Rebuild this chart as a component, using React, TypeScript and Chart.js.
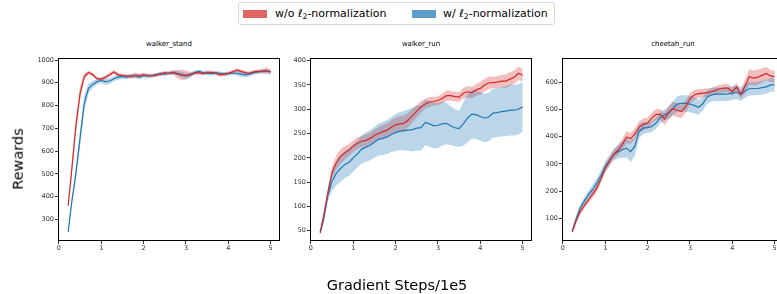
import React, { useEffect, useRef } from "react";
import { Chart, registerables } from "chart.js";

Chart.register(...registerables);

const FONT = "'DejaVu Sans', sans-serif";
const RED = "rgb(214,39,40)";
const BLUE = "rgb(31,119,180)";
const RED_BAND = "rgba(214,39,40,0.3)";
const BLUE_BAND = "rgba(31,119,180,0.3)";

// Gradient steps (x1e5)
const xSteps = [0.22, 0.3, 0.4, 0.5, 0.6, 0.7, 0.8, 0.9, 1.0, 1.1, 1.2, 1.3, 1.4, 1.5, 1.6, 1.7, 1.8, 1.9, 2.0, 2.1, 2.2, 2.3, 2.4, 2.5, 2.6, 2.7, 2.8, 2.9, 3.0, 3.1, 3.2, 3.3, 3.4, 3.5, 3.6, 3.7, 3.8, 3.9, 4.0, 4.1, 4.2, 4.3, 4.4, 4.5, 4.6, 4.7, 4.8, 4.9, 5.0];
const xTicks = [0, 1, 2, 3, 4, 5];

const seriesLabels = ["w/o ℓ2-normalization", "w/ ℓ2-normalization"];

// walker_stand
const walkerStandWo = [360, 510, 706, 853, 927, 945, 936, 918, 916, 925, 935, 948, 935, 932, 930, 928, 932, 930, 935, 932, 930, 935, 938, 945, 942, 946, 938, 935, 933, 937, 942, 945, 940, 946, 946, 942, 935, 938, 942, 948, 956, 950, 945, 942, 948, 950, 951, 953, 948];
const walkerStandWoSpread = [6, 25, 35, 30, 15, 8, 8, 8, 8, 8, 10, 8, 10, 8, 8, 10, 12, 10, 8, 8, 8, 8, 8, 8, 8, 10, 18, 24, 20, 12, 8, 8, 8, 8, 8, 8, 8, 8, 8, 8, 8, 8, 8, 8, 8, 8, 10, 15, 10];
const walkerStandW = [245, 370, 498, 656, 810, 876, 893, 905, 910, 905, 908, 918, 925, 928, 925, 930, 932, 926, 932, 930, 932, 935, 940, 938, 942, 945, 942, 935, 930, 935, 945, 950, 945, 942, 940, 945, 942, 938, 940, 943, 942, 938, 935, 938, 945, 948, 950, 952, 948];
const walkerStandWSpread = [6, 15, 25, 35, 35, 22, 15, 12, 12, 15, 12, 12, 10, 10, 8, 8, 10, 12, 10, 10, 8, 8, 8, 8, 8, 8, 10, 12, 12, 10, 8, 8, 8, 8, 8, 8, 8, 8, 8, 8, 10, 12, 12, 10, 8, 8, 8, 8, 8];
const walkerStandTicks = [300, 400, 500, 600, 700, 800, 900, 1000];

// walker_run
const walkerRunWo = [47, 80, 128, 170, 190, 203, 210, 216, 224, 230, 234, 236, 240, 246, 250, 254, 257, 263, 268, 270, 271, 278, 287, 296, 305, 311, 315, 316, 318, 322, 328, 328, 326, 325, 333, 336, 334, 340, 343, 350, 354, 355, 356, 358, 358, 362, 366, 374, 370];
const walkerRunWoSpread = [3, 5, 8, 12, 15, 15, 14, 12, 12, 12, 11, 12, 12, 13, 13, 14, 14, 15, 15, 16, 16, 15, 14, 13, 12, 10, 10, 9, 9, 10, 11, 10, 10, 10, 11, 12, 12, 12, 13, 13, 13, 12, 12, 13, 14, 14, 14, 14, 13];
const walkerRunW = [45, 72, 122, 152, 168, 178, 186, 191, 200, 208, 218, 222, 226, 232, 238, 240, 243, 248, 252, 255, 256, 257, 258, 261, 262, 273, 270, 266, 267, 270, 271, 266, 262, 260, 270, 282, 290, 289, 285, 282, 284, 292, 293, 295, 296, 298, 298, 300, 305];
const walkerRunWSpread = [3, 6, 12, 20, 25, 27, 28, 28, 28, 28, 29, 30, 31, 32, 33, 34, 35, 36, 38, 39, 41, 43, 45, 46, 47, 47, 47, 47, 46, 45, 43, 40, 38, 37, 45, 50, 50, 50, 50, 50, 50, 50, 50, 51, 51, 52, 52, 52, 51];
const walkerRunTicks = [50, 100, 150, 200, 250, 300, 350, 400];

// cheetah_run
const cheetahRunWo = [50, 85, 122, 145, 167, 188, 210, 245, 284, 310, 335, 350, 370, 398, 393, 410, 435, 445, 450, 468, 482, 482, 465, 490, 503, 497, 492, 510, 540, 553, 558, 560, 562, 565, 570, 576, 578, 578, 565, 582, 555, 585, 620, 615, 618, 625, 632, 623, 620];
const cheetahRunWoSpread = [6, 10, 12, 12, 12, 14, 15, 15, 15, 16, 18, 18, 20, 22, 20, 20, 22, 22, 20, 20, 20, 20, 22, 24, 25, 25, 24, 22, 20, 18, 16, 15, 15, 15, 15, 15, 15, 15, 15, 15, 15, 25, 28, 28, 28, 26, 25, 22, 22];
const cheetahRunW = [52, 92, 135, 162, 186, 205, 229, 258, 290, 312, 333, 345, 352, 358, 345, 365, 420, 432, 433, 437, 450, 470, 480, 487, 505, 520, 522, 522, 520, 515, 508, 520, 545, 553, 556, 556, 556, 557, 560, 563, 556, 568, 576, 577, 577, 580, 583, 590, 590];
const cheetahRunWSpread = [6, 10, 12, 14, 15, 18, 18, 18, 20, 20, 20, 25, 30, 35, 38, 35, 25, 22, 20, 20, 20, 20, 20, 22, 25, 28, 30, 30, 30, 30, 28, 25, 25, 25, 25, 25, 25, 25, 25, 25, 25, 25, 25, 25, 25, 25, 25, 25, 25];
const cheetahRunTicks = [100, 200, 300, 400, 500, 600];

const AREA_W = 222;
const Y_AXIS_W = 50;
const RIGHT_PAD = 6;
const CANVAS_TOP = 50;
const CANVAS_H = 206;

const framePlugin = {
  id: "frame",
  afterDraw(chart: any) {
    const { ctx, chartArea } = chart;
    const { left, top, right, bottom } = chartArea;
    ctx.save();
    ctx.strokeStyle = "#000";
    ctx.lineWidth = 1;
    ctx.strokeRect(left + 0.5, top + 0.5, right - left - 1, bottom - top - 1);
    ctx.restore();
  },
};

type PanelProps = {
  areaLeft: number;
  yMin: number;
  yMax: number;
  yTicks: number[];
  wo: number[];
  woSpread: number[];
  w: number[];
  wSpread: number[];
};

function Panel({ areaLeft, yMin, yMax, yTicks, wo, woSpread, w, wSpread }: PanelProps) {
  const ref = useRef<HTMLCanvasElement>(null);
  useEffect(() => {
    const pts = (m: number[]) => xSteps.map((x, i) => ({ x, y: m[i] }));
    const up = (m: number[], s: number[]) => xSteps.map((x, i) => ({ x, y: m[i] + s[i] }));
    const lo = (m: number[], s: number[]) => xSteps.map((x, i) => ({ x, y: m[i] - s[i] }));
    const hidden = { borderColor: "rgba(0,0,0,0)", borderWidth: 0, pointRadius: 0 };
    const tickFont = { family: FONT, size: 6.5 };
    const gridCfg = {
      display: true,
      drawOnChartArea: false,
      drawTicks: true,
      tickLength: 3,
      color: "#000",
      lineWidth: 0.8,
    };
    const chart = new Chart(ref.current as HTMLCanvasElement, {
      type: "line",
      data: {
        datasets: [
          { label: seriesLabels[0], data: pts(wo), borderColor: RED, borderWidth: 1.2, pointRadius: 0, fill: false, order: 0 },
          { label: seriesLabels[1], data: pts(w), borderColor: BLUE, borderWidth: 1.2, pointRadius: 0, fill: false, order: 1 },
          { data: up(w, wSpread), ...hidden, fill: false, order: 2 },
          { data: lo(w, wSpread), ...hidden, fill: 2, backgroundColor: BLUE_BAND, order: 2 },
          { data: up(wo, woSpread), ...hidden, fill: false, order: 3 },
          { data: lo(wo, woSpread), ...hidden, fill: 4, backgroundColor: RED_BAND, order: 3 },
        ] as any,
      },
      options: {
        responsive: false,
        maintainAspectRatio: false,
        animation: false,
        events: [],
        layout: { padding: { top: 8, right: RIGHT_PAD, left: 0, bottom: 0 } },
        plugins: {
          legend: { display: false },
          tooltip: { enabled: false },
          title: { display: false },
        },
        scales: {
          x: {
            type: "linear",
            min: -0.02,
            max: 5.22,
            afterBuildTicks: (s: any) => {
              s.ticks = xTicks.map((v) => ({ value: v }));
            },
            afterFit: (s: any) => {
              s.height = 15;
            },
            grid: gridCfg,
            border: { display: false },
            ticks: {
              font: tickFont,
              color: "#333",
              padding: 0,
              maxRotation: 0,
              autoSkip: false,
              callback: (v: any) => String(v),
            },
          },
          y: {
            type: "linear",
            min: yMin,
            max: yMax,
            afterBuildTicks: (s: any) => {
              s.ticks = yTicks.map((v) => ({ value: v }));
            },
            afterFit: (s: any) => {
              s.width = Y_AXIS_W;
            },
            grid: gridCfg,
            border: { display: false },
            ticks: {
              font: tickFont,
              color: "#333",
              padding: 1,
              autoSkip: false,
              callback: (v: any) => String(v),
            },
          },
        },
      } as any,
      plugins: [framePlugin],
    });
    return () => chart.destroy();
  }, []);
  return (
    <canvas
      ref={ref}
      width={Y_AXIS_W + AREA_W + RIGHT_PAD}
      height={CANVAS_H}
      style={{
        position: "absolute",
        left: areaLeft - Y_AXIS_W,
        top: CANVAS_TOP,
        width: Y_AXIS_W + AREA_W + RIGHT_PAD,
        height: CANVAS_H,
      }}
    />
  );
}

const textBase: React.CSSProperties = {
  position: "absolute",
  fontFamily: FONT,
  whiteSpace: "nowrap",
  color: "#000",
};

function L2Label({ prefix }: { prefix: string }) {
  return (
    <span>
      {prefix}
      <span style={{ fontStyle: "italic" }}>ℓ</span>
      <span style={{ fontSize: "0.7em", position: "relative", top: "0.3em" }}>2</span>
      -normalization
    </span>
  );
}

export default function App() {
  const panels = [
    { title: "walker_stand", areaLeft: 58, yMin: 205, yMax: 1009, yTicks: walkerStandTicks, wo: walkerStandWo, woSpread: walkerStandWoSpread, w: walkerStandW, wSpread: walkerStandWSpread },
    { title: "walker_run", areaLeft: 310, yMin: 28.8, yMax: 405.5, yTicks: walkerRunTicks, wo: walkerRunWo, woSpread: walkerRunWoSpread, w: walkerRunW, wSpread: walkerRunWSpread },
    { title: "cheetah_run", areaLeft: 562, yMin: 16.5, yMax: 689, yTicks: cheetahRunTicks, wo: cheetahRunWo, woSpread: cheetahRunWoSpread, w: cheetahRunW, wSpread: cheetahRunWSpread },
  ];
  return (
    <div
      style={{
        position: "fixed",
        left: 0,
        top: 0,
        width: 777,
        height: 294,
        overflow: "hidden",
        background: "#fff",
      }}
    >
      {panels.map((p) => (
        <Panel key={p.title} {...p} />
      ))}
      {panels.map((p) => (
        <div
          key={p.title + "-t"}
          style={{
            ...textBase,
            left: p.areaLeft + AREA_W / 2,
            top: 41,
            fontSize: 7,
            lineHeight: "7px",
            transform: "translateX(-50%)",
          }}
        >
          {p.title}
        </div>
      ))}
      {/* legend */}
      <div
        style={{
          position: "absolute",
          left: 238,
          top: 2,
          width: 317,
          height: 23,
          boxSizing: "border-box",
          border: "1px solid #d6d6d6",
          borderRadius: 3,
          background: "#fff",
        }}
      />
      <div style={{ position: "absolute", left: 243, top: 10, width: 24, height: 8, background: "rgba(214,39,40,0.72)" }} />
      <div style={{ ...textBase, left: 275, top: 8, fontSize: 11, lineHeight: "11px" }}>
        <L2Label prefix="w/o " />
      </div>
      <div style={{ position: "absolute", left: 412, top: 10, width: 24, height: 8, background: "rgba(31,119,180,0.72)" }} />
      <div style={{ ...textBase, left: 443, top: 8, fontSize: 11, lineHeight: "11px" }}>
        <L2Label prefix="w/ " />
      </div>
      {/* axis labels */}
      <div
        style={{
          ...textBase,
          left: 18.3,
          top: 159,
          fontSize: 14.5,
          lineHeight: "14.5px",
          transform: "translate(-50%, -50%) rotate(-90deg)",
        }}
      >
        Rewards
      </div>
      <div
        style={{
          ...textBase,
          left: 397,
          top: 278,
          fontSize: 14.5,
          lineHeight: "14.5px",
          transform: "translateX(-50%)",
        }}
      >
        Gradient Steps/1e5
      </div>
    </div>
  );
}
